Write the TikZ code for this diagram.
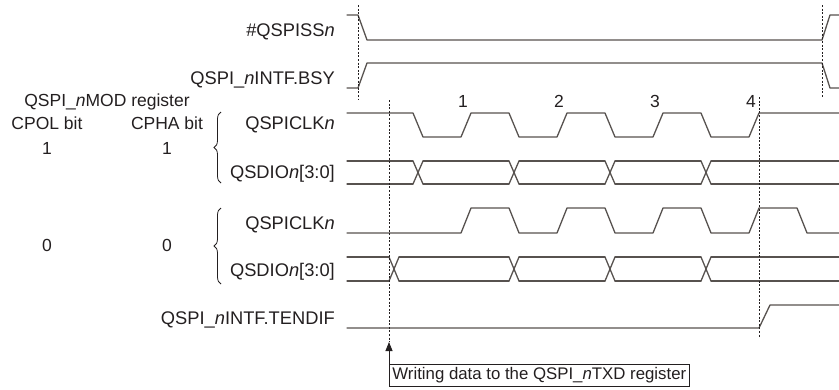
\documentclass[tikz,border=0pt]{standalone}
\usepackage{fontspec}
\setmainfont{Liberation Sans}
\usetikzlibrary{arrows.meta,positioning,decorations.pathreplacing}
\definecolor{WaveGray}{HTML}{57524F}
\definecolor{InkDark}{HTML}{231F20}
\tikzset{
  sigline/.style={line width=1.3pt,draw=WaveGray,line join=round,line cap=round},
  markline/.style={line width=0.8pt,draw=InkDark,dash pattern=on 2pt off 1.6pt},
  siglbl/.style={anchor=base east,inner sep=0pt,font=\fontsize{18.3}{21}\selectfont,text=InkDark},
  bitlbl/.style={anchor=base,inner sep=0pt,font=\fontsize{17.5}{20}\selectfont,text=InkDark},
  grpbrace/.style={decorate,decoration={brace,amplitude=7pt,aspect=0.5},line width=0.8pt,draw=InkDark},
  notebox/.style={draw=InkDark,line width=0.8pt,anchor=north west,inner xsep=3pt,inner ysep=0pt,minimum height=22pt,font=\fontsize{16.8}{19}\selectfont,text=InkDark},
  notearrow/.style={-{Triangle[length=9pt,width=7pt]},line width=0.8pt,draw=InkDark}
}
\begin{document}
\begin{tikzpicture}[x=1pt,y=-1pt]
\useasboundingbox (0,0) rectangle (839,389);
% register settings on the left
\node[bitlbl] (mod) at (107,106) {QSPI\_\textit{n}MOD register};
\node[bitlbl] (cpol) at (47,129) {CPOL bit};
\node[bitlbl] (cpha) at (167,129) {CPHA bit};
\node[bitlbl] (cpol1) at (47,154) {1};
\node[bitlbl] (cpha1) at (167,154) {1};
\node[bitlbl] (cpol0) at (47,251) {0};
\node[bitlbl] (cpha0) at (167,251) {0};
\draw[grpbrace] (221,183) -- (221,112);
\draw[grpbrace] (221,284) -- (221,208);
% signal names
\node[siglbl] (ss) at (335,36) {\#QSPISS\textit{n}};
\node[siglbl] (bsy) at (335,84) {QSPI\_\textit{n}INTF.BSY};
\node[siglbl] (clka) at (335,129) {QSPICLK\textit{n}};
\node[siglbl] (sdioa) at (335,178) {QSDIO\textit{n}[3:0]};
\node[siglbl] (clkb) at (335,229) {QSPICLK\textit{n}};
\node[siglbl] (sdiob) at (335,276) {QSDIO\textit{n}[3:0]};
\node[siglbl] (tend) at (335,324) {QSPI\_\textit{n}INTF.TENDIF};
% clock numbers
\foreach \k [count=\i] in {0,...,3}
  \node[bitlbl] (num\i) at ({463+96*\k},107) {\i};
% #QSPISSn and BSY
\draw[sigline] (347,15) -- (358,15) -- (367,40) -- (822,40) -- (830,15) -- (839,15);
\draw[sigline] (347,88) -- (358,88) -- (367,63) -- (822,63) -- (830,88) -- (839,88);
% CPOL=1, CPHA=1
\draw[sigline] (347,113) foreach \k in {0,...,3} {
  -- ({413+96*\k},113) -- ({423+96*\k},137) -- ({461+96*\k},137) -- ({471+96*\k},113)
} -- (839,113);
\foreach \a/\b in {347/413,423/509,519/605,615/701,711/839}
  \draw[sigline] (\a,161) -- (\b,161) (\a,184) -- (\b,184);
\foreach \c in {413,509,605,701}
  \draw[sigline] (\c,161) -- (\c+10,184) (\c,184) -- (\c+10,161);
% CPOL=0, CPHA=0
\draw[sigline] (347,233) foreach \k in {0,...,3} {
  -- ({461+96*\k},233) -- ({471+96*\k},208) -- ({509+96*\k},208) -- ({519+96*\k},233)
} -- (839,233);
\foreach \a/\b in {347/389,399/509,519/605,615/701,711/839}
  \draw[sigline] (\a,257) -- (\b,257) (\a,281) -- (\b,281);
\foreach \c in {389,509,605,701}
  \draw[sigline] (\c,257) -- (\c+10,281) (\c,281) -- (\c+10,257);
% TENDIF
\draw[sigline] (347,328) -- (759,328) -- (770,305) -- (839,305);
% timing marks
\draw[markline] (358,5) -- (358,100);
\draw[markline] (822,5) -- (822,98);
\draw[markline] (759,97) -- (759,338);
\coordinate (wr) at (389,342);
\draw[markline] (389,100) -- (wr);
\node[notebox] (txd) at (389,364) {Writing data to the QSPI\_\textit{n}TXD register};
\draw[notearrow] (txd.north west) -- (wr);
\end{tikzpicture}
\end{document}
